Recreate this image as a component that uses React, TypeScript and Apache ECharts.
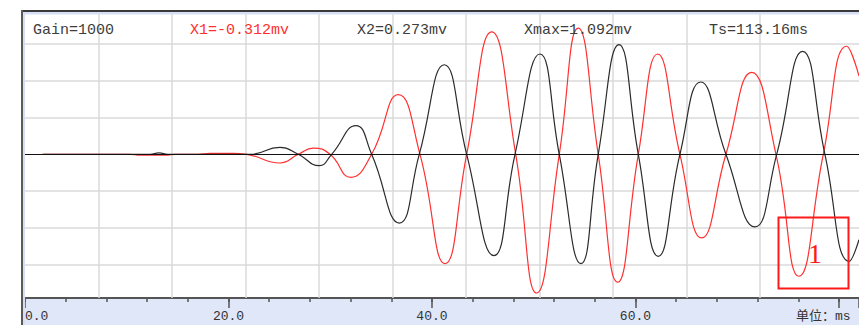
import React, { useEffect, useRef } from "react";
import * as echarts from "echarts";

// waveform 1 (black) — time in ms, amplitude in mv
const blackTime = [1.8, 12.29, 13.17, 14.05, 22.11, 25.06, 26.86, 28.92, 30.14, 32.53, 34.07, 36.79, 38.75, 41.21, 43.41, 46.09, 48.16, 50.61, 52.51, 54.64, 56.34, 58.38, 60.28, 62.24, 64.37, 66.41, 68.89, 71.74, 73.88, 76.43, 78.62, 81.01, 81.97];
const blackAmp = [0, 0, 0.011, 0, 0, 0.057, 0, -0.093, 0, 0.234, 0, -0.562, 0, 0.732, 0, -0.829, 0, 0.82, 0, -0.894, 0, 0.896, 0, -0.834, 0, 0.591, 0, -0.594, 0, 0.842, 0, -0.875, -0.698];

// waveform 2 (red)
const redTime = [1.67, 10.32, 11.3, 13.86, 14.74, 17.0, 18.18, 20.44, 21.79, 25.06, 26.86, 28.34, 29.98, 32.01, 34.07, 36.69, 38.82, 41.28, 43.41, 45.87, 48.23, 50.29, 52.51, 54.37, 56.34, 58.25, 60.28, 62.18, 64.37, 66.51, 68.89, 71.42, 73.81, 76.07, 78.46, 80.76, 81.97];
const redAmp = [0, 0, -0.008, -0.008, 0, 0, 0.008, 0.008, 0, -0.071, 0, 0.051, 0, -0.188, 0, 0.487, 0, -0.894, 0, 1.0, 0, -1.134, 0, 1.032, 0, -1.046, 0, 0.82, 0, -0.684, 0, 0.67, 0, -0.997, 0, 0.883, 0.64];

// background grid divisions
const gridTimes = [7.22, 14.45, 21.67, 28.9, 36.12, 43.34, 50.57, 57.79, 65.01, 72.24];
const gridAmps = [-0.9, -0.6, -0.3, 0.3, 0.6, 0.9];

// axis tick labels
const axisLabelValues = [0, 20, 40, 60];

const headerTexts = ["Gain=1000", "X1=-0.312mv", "X2=0.273mv", "Xmax=1.092mv", "Ts=113.16ms"];
const headerColors = ["#3d3d3d", "#ff3030", "#3d3d3d", "#3d3d3d", "#3d3d3d"];
const unitText = "单位：ms";
const markText = "1";

export default function App() {
  const ref = useRef<HTMLDivElement>(null);

  useEffect(() => {
    document.body.style.margin = "0";
    if (!ref.current) return;
    const chart = echarts.init(ref.current, undefined, { renderer: "svg" });
    const headerX = [33, 190, 357, 524, 709];

    const option: any = {
      animation: false,
      backgroundColor: "#ffffff",
      grid: { left: 25, right: 0, top: 13, bottom: 27, containLabel: false },
      xAxis: [
        {
          type: "value",
          position: "bottom",
          min: 0,
          max: 81.97,
          interval: 4,
          axisLine: { show: true, onZero: false, lineStyle: { color: "#555555", width: 2 } },
          axisTick: { show: true, length: 4, lineStyle: { color: "#555555", width: 1.5 } },
          axisLabel: {
            show: true,
            margin: 12,
            color: "#333333",
            fontSize: 13,
            fontFamily: "Liberation Mono",
            alignMinLabel: "left",
            showMaxLabel: false,
            formatter: (v: number) =>
              axisLabelValues.indexOf(Math.round(v * 100) / 100) >= 0 ? v.toFixed(1) : "",
          },
          splitLine: { show: false },
        },
        {
          type: "value",
          position: "bottom",
          min: 0,
          max: 81.97,
          interval: 20,
          axisLine: { show: false, onZero: false },
          axisTick: { show: true, length: 10, lineStyle: { color: "#555555", width: 1.5 } },
          axisLabel: { show: false },
          splitLine: { show: false },
        },
      ],
      yAxis: {
        type: "value",
        show: false,
        min: -1.1747,
        max: 1.155,
        splitLine: { show: false },
      },
      series: [
        {
          type: "line",
          name: "red",
          data: redTime.map((t, i) => [t, redAmp[i]]),
          showSymbol: false,
          symbol: "none",
          smooth: 0.5,
          z: 2,
          lineStyle: { color: "#ff3030", width: 1.2 },
          markLine: {
            z: 1,
            silent: true,
            symbol: ["none", "none"],
            label: { show: false },
            emphasis: { disabled: true },
            lineStyle: { color: "#dadada", width: 1.5, type: "solid" },
            data: [
              ...gridTimes.map((t) => ({ xAxis: t })),
              ...gridAmps.map((a) => ({ yAxis: a })),
            ],
          },
        },
        {
          type: "line",
          name: "black",
          data: blackTime.map((t, i) => [t, blackAmp[i]]),
          showSymbol: false,
          symbol: "none",
          smooth: 0.5,
          z: 3,
          lineStyle: { color: "#2b2b2b", width: 1.2 },
          markLine: {
            z: 4,
            silent: true,
            symbol: ["none", "none"],
            label: { show: false },
            emphasis: { disabled: true },
            lineStyle: { color: "#111111", width: 1.2, type: "solid" },
            data: [{ yAxis: 0 }],
          },
        },
      ],
      graphic: [
        { type: "rect", z: -10, silent: true, shape: { x: 23, y: 298, width: 836, height: 27 }, style: { fill: "#e0e7f9" } },
        { type: "rect", z: 10, silent: true, shape: { x: 23, y: 12, width: 836, height: 2.5 }, style: { fill: "#d6dff5" } },
        { type: "rect", z: 10, silent: true, shape: { x: 23, y: 12, width: 2, height: 313 }, style: { fill: "#d6dff5" } },
        { type: "line", z: 11, silent: true, shape: { x1: 21, y1: 11, x2: 859, y2: 11 }, style: { stroke: "#3a3a3a", lineWidth: 2 } },
        { type: "line", z: 11, silent: true, shape: { x1: 22, y1: 10, x2: 22, y2: 325 }, style: { stroke: "#5a5a5a", lineWidth: 2 } },
        ...headerTexts.map((t, i) => ({
          type: "text",
          z: 20,
          silent: true,
          x: headerX[i],
          y: 30,
          style: {
            text: t,
            fill: headerColors[i],
            font: '15px "Liberation Mono"',
            textAlign: "left",
            textVerticalAlign: "middle",
            align: "left",
            verticalAlign: "middle",
          },
        })),
        {
          type: "text",
          z: 20,
          silent: true,
          x: 796,
          y: 316,
          style: {
            text: unitText,
            fill: "#333333",
            font: '13px "Liberation Mono", "Noto Sans CJK SC"',
            textAlign: "left",
            textVerticalAlign: "middle",
            align: "left",
            verticalAlign: "middle",
          },
        },
        {
          type: "rect",
          z: 20,
          silent: true,
          shape: { x: 778.5, y: 217.5, width: 70, height: 71 },
          style: { fill: "none", stroke: "#ff1a1a", lineWidth: 2 },
        },
        {
          type: "text",
          z: 20,
          silent: true,
          x: 815,
          y: 253,
          style: {
            text: markText,
            fill: "#ff1a1a",
            font: '28px "Liberation Serif"',
            textAlign: "center",
            textVerticalAlign: "middle",
            align: "center",
            verticalAlign: "middle",
          },
        },
      ],
    };

    chart.setOption(option);
    return () => chart.dispose();
  }, []);

  return <div ref={ref} style={{ width: 859, height: 325 }} />;
}
